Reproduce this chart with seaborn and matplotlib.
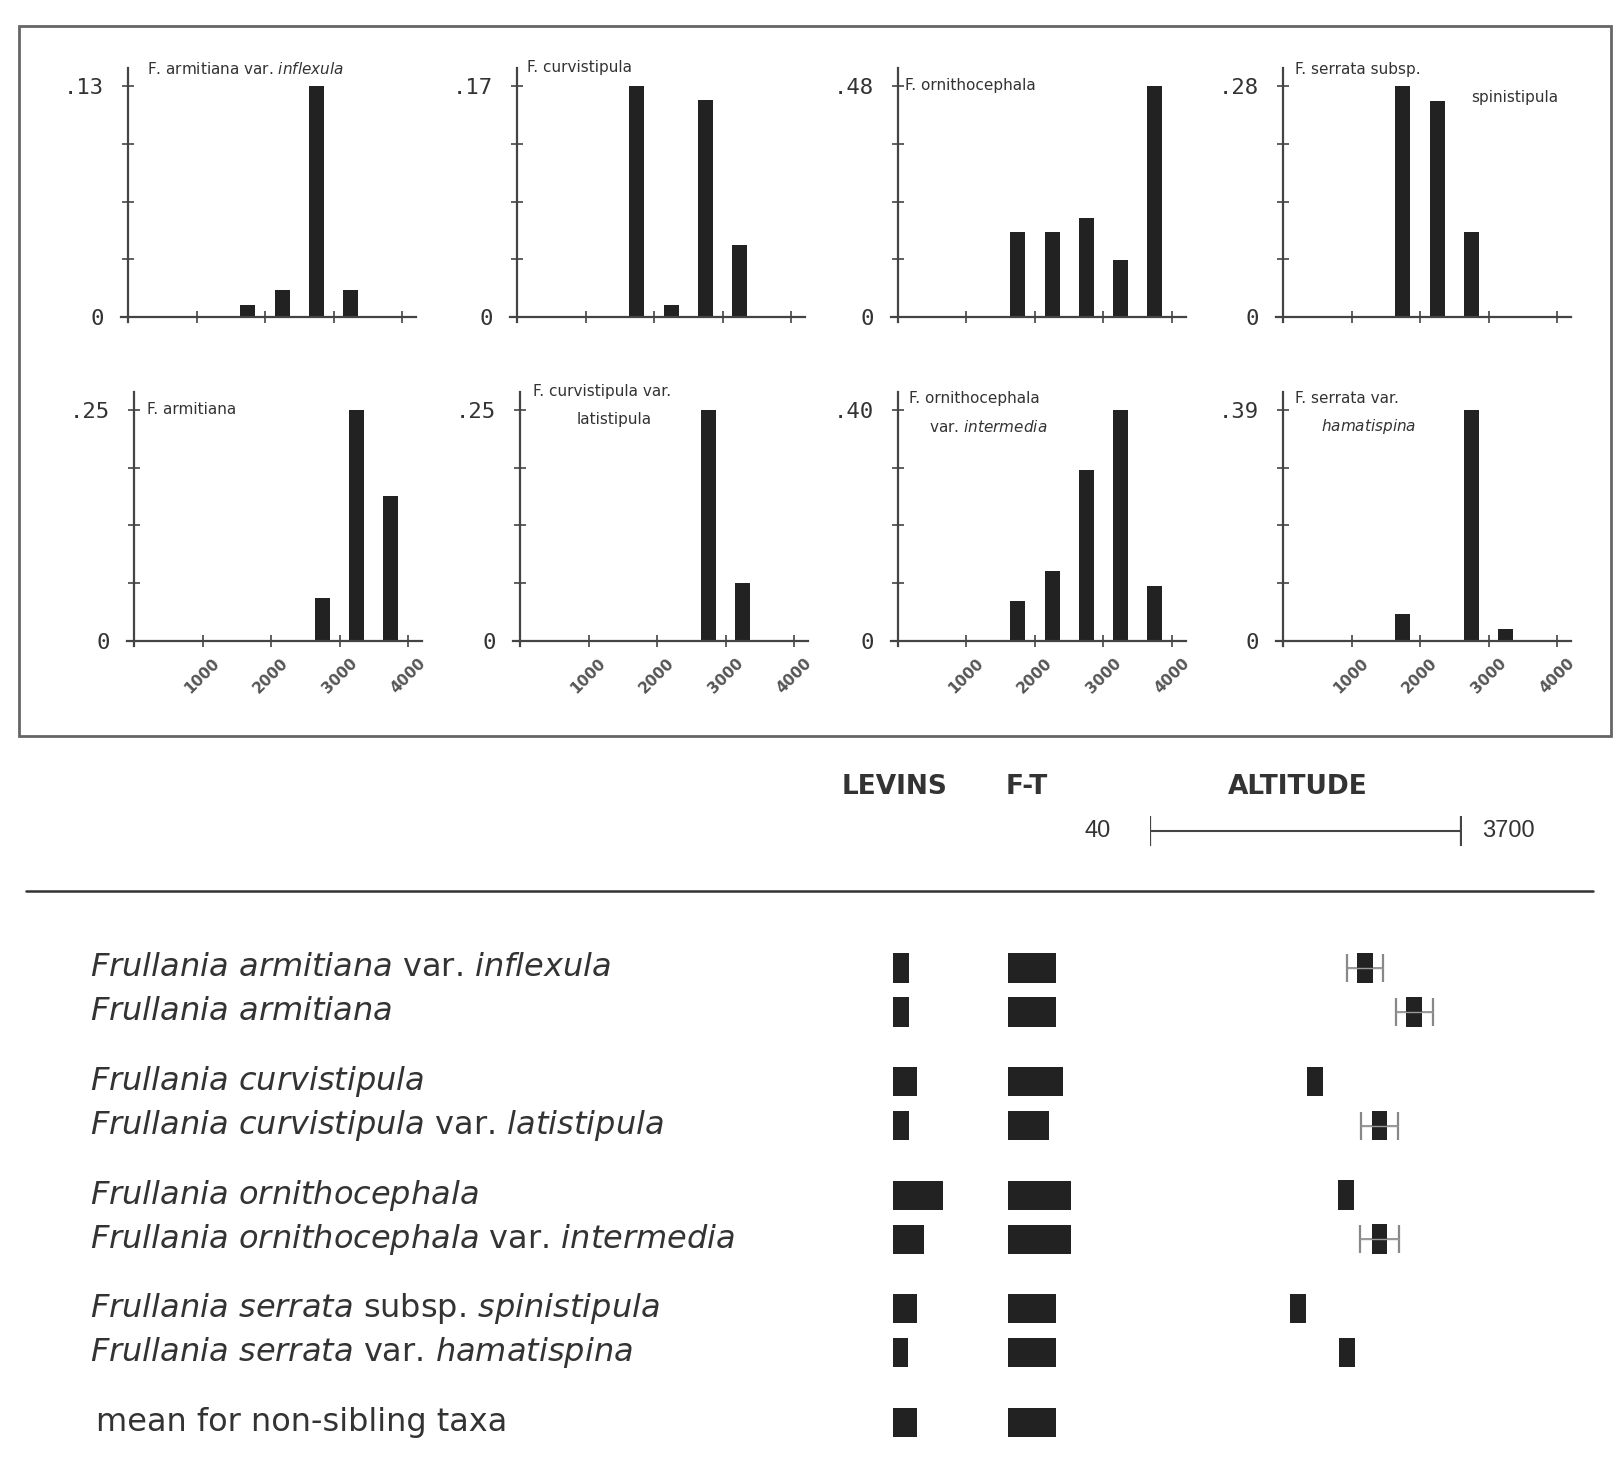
import numpy as np
import pandas as pd
import seaborn as sns
import matplotlib.pyplot as plt
import matplotlib.path as mpath
import matplotlib.transforms as mtransforms
from matplotlib.patches import Rectangle
from matplotlib.lines import Line2D

# altitude class centres (m) used by the frequency histograms
alt_bins = [250, 750, 1250, 1750, 2250, 2750, 3250, 3750]

# relative frequency per altitude class
freq_armitiana_inflexula = [0, 0, 0, 0.007, 0.015, 0.13, 0.015, 0]
freq_curvistipula = [0, 0, 0, 0.17, 0.009, 0.16, 0.053, 0]
freq_ornithocephala = [0, 0, 0, 0.177, 0.177, 0.205, 0.118, 0.48]
freq_serrata_spinistipula = [0, 0, 0, 0.28, 0.262, 0.103, 0, 0]
freq_armitiana = [0, 0, 0, 0, 0, 0.046, 0.25, 0.157]
freq_curvistipula_latistipula = [0, 0, 0, 0, 0, 0.25, 0.063, 0]
freq_ornithocephala_intermedia = [0, 0, 0, 0.069, 0.121, 0.296, 0.40, 0.095]
freq_serrata_hamatispina = [0, 0, 0, 0.045, 0, 0.39, 0.02, 0]

panel_freqs = [
    freq_armitiana_inflexula, freq_curvistipula, freq_ornithocephala, freq_serrata_spinistipula,
    freq_armitiana, freq_curvistipula_latistipula, freq_ornithocephala_intermedia, freq_serrata_hamatispina,
]
panel_max = [0.13, 0.17, 0.48, 0.28, 0.25, 0.25, 0.40, 0.39]
panel_max_labels = [".13", ".17", ".48", ".28", ".25", ".25", ".40", ".39"]
panel_titles = [
    ["F. armitiana var. $\\mathit{inflexula}$"],
    ["F. curvistipula"],
    ["F. ornithocephala"],
    ["F. serrata subsp.", "spinistipula"],
    ["F. armitiana"],
    ["F. curvistipula var.", "latistipula"],
    ["F. ornithocephala", "var. $\\mathit{intermedia}$"],
    ["F. serrata var.", "$\\mathit{hamatispina}$"],
]
x_ticks = [0, 1000, 2000, 3000, 4000]
x_tick_labels = ["", "1000", "2000", "3000", "4000"]

# lower table
taxa_labels = [
    r"$\mathit{Frullania\ armitiana}$ var. $\mathit{inflexula}$",
    r"$\mathit{Frullania\ armitiana}$",
    r"$\mathit{Frullania\ curvistipula}$",
    r"$\mathit{Frullania\ curvistipula}$ var. $\mathit{latistipula}$",
    r"$\mathit{Frullania\ ornithocephala}$",
    r"$\mathit{Frullania\ ornithocephala}$ var. $\mathit{intermedia}$",
    r"$\mathit{Frullania\ serrata}$ subsp. $\mathit{spinistipula}$",
    r"$\mathit{Frullania\ serrata}$ var. $\mathit{hamatispina}$",
    "mean for non-sibling taxa",
]
taxa_groups = [0, 0, 1, 1, 2, 2, 3, 3, 4]
levins = [1.6, 1.6, 2.4, 1.6, 5.0, 3.1, 2.4, 1.5, 2.4]
ft = [0.48, 0.48, 0.55, 0.41, 0.63, 0.63, 0.48, 0.48, 0.48]
alt_mean = [2570, 3150, 1980, 2740, 2350, 2740, 1780, 2360]
alt_spread = [210, 220, 0, 220, 0, 230, 0, 0]
alt_range = [40, 3700]

sns.set_theme(style="white")
plt.rcParams["font.family"] = ["DejaVu Sans"]
plt.rcParams["mathtext.fontset"] = "dejavusans"

W, H = 1613, 1474
fig = plt.figure(figsize=(W / 100, H / 100), dpi=100)
fig.patch.set_facecolor("white")
INK = "#222222"
GREY = "#444444"


def px_axes(left, top, width, height):
    return fig.add_axes([left / W, 1 - (top + height) / H, width / W, height / H])


def fig_text(x, y, s, **kw):
    return fig.text(x / W, 1 - y / H, s, **kw)


# frame round the histograms
fig.add_artist(Rectangle((19 / W, 1 - 736 / H), 1592 / W, 710 / H, transform=fig.transFigure,
                         fill=False, edgecolor="#666666", linewidth=2))

# ---- histogram panels
PX_PER_M = 0.0685
X_LO, X_HI = -100, 4200
col_x = [[128, 517, 898, 1283], [134, 520, 898, 1283]]
row_zero = [317, 641]
MAX_PX = 231
title_off = [(19, 1), (10, 0), (7, 18), (12, 2), (13, 18), (13, 0), (11, 7), (12, 7)]
line2_indent = [0, 0, 0, 176, 0, 44, 20, 26]

for i, freqs in enumerate(panel_freqs):
    r, c = divmod(i, 4)
    m = panel_max[i]
    x0, y0 = col_x[r][c], row_zero[r]
    ylo, yhi = -0.02 * m, 1.08 * m
    ax = px_axes(x0 + X_LO * PX_PER_M, y0 - yhi / m * MAX_PX,
                 (X_HI - X_LO) * PX_PER_M, (yhi - ylo) / m * MAX_PX)
    df = pd.DataFrame({"alt": alt_bins, "freq": freqs})
    sns.barplot(data=df, x="alt", y="freq", native_scale=True, width=0.44,
                color=INK, saturation=1, linewidth=0, errorbar=None, ax=ax)
    ax.set_xlim(X_LO, X_HI)
    ax.set_ylim(ylo, yhi)
    ax.set_xlabel("")
    ax.set_ylabel("")
    ax.patch.set_alpha(0)
    for s in ["top", "right"]:
        ax.spines[s].set_visible(False)
    ax.spines["left"].set_position(("data", 0))
    ax.spines["bottom"].set_position(("data", 0))
    for s in ["left", "bottom"]:
        ax.spines[s].set_color(GREY)
        ax.spines[s].set_linewidth(1.6)
    ax.set_yticks([0, m / 4, m / 2, 3 * m / 4, m])
    ax.set_yticklabels(["0", "", "", "", panel_max_labels[i]],
                       family="DejaVu Sans Mono", fontsize=16, color="#333333")
    ax.set_xticks(x_ticks)
    if r == 1:
        ax.set_xticklabels(x_tick_labels, rotation=45, fontsize=11, fontweight="bold",
                           color="#555555", ha="center", va="top")
    else:
        ax.set_xticklabels([])
    ax.tick_params(axis="both", left=True, bottom=True, direction="inout",
                   length=9, width=1.2, color=GREY)
    ax.tick_params(axis="y", pad=13)
    ax.tick_params(axis="x", pad=6)

    dx, dy = title_off[i]
    for k, line in enumerate(panel_titles[i]):
        ax.annotate(line, xy=(0, yhi), xycoords="data",
                    xytext=(dx + (line2_indent[i] if k else 0), -(dy + 28 * k)),
                    textcoords="offset pixels", ha="left", va="center",
                    fontsize=11, color="#333333")

# ---- header of the lower table
head_kw = dict(fontsize=19, fontweight="bold", color="#333333", va="center",
               family=["Liberation Sans Narrow", "DejaVu Sans"])
fig_text(842, 787, "LEVINS", **head_kw)
fig_text(1006, 787, "F-T", **head_kw)
fig_text(1228, 787, "ALTITUDE", **head_kw)

ax_sc = px_axes(1150, 811, 311, 40)
ax_sc.plot(alt_range, [0, 0], color=GREY, lw=1.5)
ax_sc.plot(alt_range, [0, 0], ls="none", marker="|", ms=22, mew=1.6, color=GREY)
ax_sc.set_xlim(alt_range)
ax_sc.set_ylim(-1, 1)
ax_sc.annotate(str(alt_range[0]), xy=(alt_range[0], 0), xytext=(-39, 0), textcoords="offset pixels",
               ha="right", va="center", fontsize=17, color="#333333", family="Liberation Sans")
ax_sc.annotate(str(alt_range[1]), xy=(alt_range[1], 0), xytext=(21, 0), textcoords="offset pixels",
               ha="left", va="center", fontsize=17, color="#333333", family="Liberation Sans")
ax_sc.axis("off")

fig.add_artist(Line2D([26 / W, 1593 / W], [1 - 891 / H, 1 - 891 / H], transform=fig.transFigure,
                      color="#333333", lw=1.8))

# ---- lower table rows
ypos = np.arange(len(taxa_labels)) + 0.58 * np.array(taxa_groups)
ROW_PX = 44
tbl_top = 968 - ROW_PX / 2
tbl_h = (ypos[-1] + 1) * ROW_PX

ax_lev = px_axes(893, tbl_top, 100, tbl_h)
sns.barplot(x=levins, y=ypos, orient="y", native_scale=True, width=0.66, color=INK,
            saturation=1, linewidth=0, errorbar=None, ax=ax_lev)
ax_lev.set_xlim(0, 10)

ax_ft = px_axes(1008, tbl_top, 100, tbl_h)
sns.barplot(x=ft, y=ypos, orient="y", native_scale=True, width=0.66, color=INK,
            saturation=1, linewidth=0, errorbar=None, ax=ax_ft)
ax_ft.set_xlim(0, 1)

ax_alt = px_axes(1150, tbl_top, 311, tbl_h)
rect = mpath.Path([(-0.27, -0.5), (0.27, -0.5), (0.27, 0.5), (-0.27, 0.5), (-0.27, -0.5)])
n_alt = len(alt_mean)
spread = np.array(alt_spread)
has_spread = spread > 0
ax_alt.errorbar(np.array(alt_mean)[has_spread], ypos[:n_alt][has_spread], xerr=spread[has_spread],
                fmt="none", ecolor="#888888", elinewidth=1.2, capsize=10, capthick=1.6, zorder=1)
sns.scatterplot(x=alt_mean, y=ypos[:n_alt], marker=rect, s=21 ** 2, color=INK,
                edgecolor="none", linewidth=0, zorder=2, ax=ax_alt)
ax_alt.errorbar(np.array(alt_mean)[has_spread], ypos[:n_alt][has_spread], xerr=spread[has_spread],
                fmt="none", ecolor="#9a9a9a", elinewidth=1.0, capsize=0, zorder=3)
ax_alt.set_xlim(alt_range)

for ax in (ax_lev, ax_ft, ax_alt):
    ax.set_ylim(ypos[-1] + 0.5, -0.5)
    ax.axis("off")

name_tr = mtransforms.blended_transform_factory(fig.transFigure, ax_lev.transData)
for k, lab in enumerate(taxa_labels):
    x = 90 if k < len(taxa_labels) - 1 else 96
    fig.text(x / W, ypos[k], lab, transform=name_tr, ha="left", va="center", fontsize=23,
             color="#333333", family="DejaVu Sans")

fig.savefig("out.png", dpi=100, facecolor="white")
